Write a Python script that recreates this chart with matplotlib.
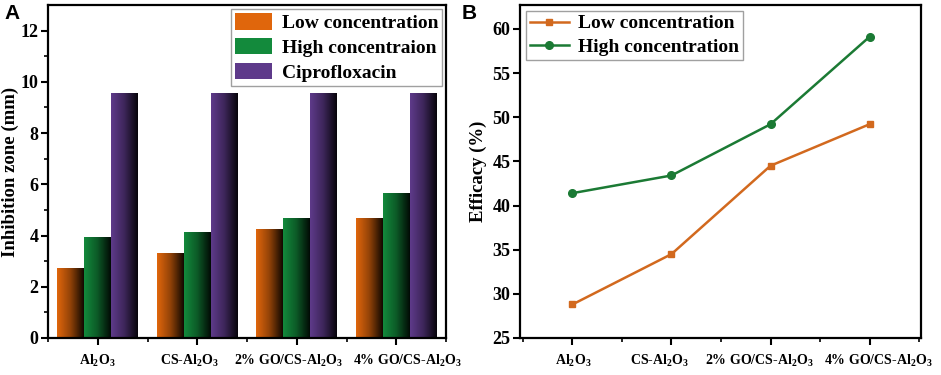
import numpy as np
import matplotlib
matplotlib.use("Agg")
import matplotlib.pyplot as plt
from matplotlib.colors import LinearSegmentedColormap, to_rgb
from matplotlib.transforms import ScaledTranslation

# =========================
# Data
# =========================
categories = ["Al$_2$O$_3$", "CS-Al$_2$O$_3$", "2% GO/CS-Al$_2$O$_3$", "4% GO/CS-Al$_2$O$_3$"]

zone_low = [2.75, 3.30, 4.25, 4.70]
zone_high = [3.95, 4.15, 4.70, 5.65]
zone_cipro = [9.55, 9.55, 9.55, 9.55]
bar_labels = ["Low concentration", "High concentraion", "Ciprofloxacin"]

eff_low = [28.8, 34.5, 44.5, 49.2]
eff_high = [41.4, 43.4, 49.2, 59.1]
line_labels = ["Low concentration", "High concentration"]

bar_colors = ["#e0660c", "#138a3c", "#5e3a8a"]
line_colors = ["#d2691e", "#1b7a34"]

plt.rcParams["font.family"] = ["Liberation Serif", "DejaVu Serif"]
plt.rcParams["font.weight"] = "bold"
plt.rcParams["mathtext.fontset"] = "custom"
plt.rcParams["mathtext.rm"] = "Liberation Serif:bold"
plt.rcParams["mathtext.it"] = "Liberation Serif:bold"
plt.rcParams["mathtext.bf"] = "Liberation Serif:bold"
plt.rcParams["mathtext.default"] = "rm"


def gradient_bars(ax, bars, color):
    """Fill each bar with a left-to-right colour -> near black gradient."""
    c = np.array(to_rgb(color))
    cmap = LinearSegmentedColormap.from_list("g", [c, c * 0.65, c * 0.08])
    grad = np.linspace(0, 1, 64).reshape(1, -1)
    for b in bars:
        x, y = b.get_x(), b.get_y()
        w, h = b.get_width(), b.get_height()
        im = ax.imshow(grad, cmap=cmap, aspect="auto", extent=(x, x + w, y, y + h),
                       zorder=b.get_zorder() + 0.1)
        im.set_clip_path(b)


def style_axes(ax):
    for s in ax.spines.values():
        s.set_linewidth(1.6)
    ax.tick_params(axis="both", which="major", direction="out", length=5, width=1.5,
                   labelsize=13, pad=2)
    ax.tick_params(axis="both", which="minor", direction="out", length=3, width=1.2)
    ax.tick_params(axis="x", labelsize=10, pad=6)


def nudge_xlabels(ax, shifts_px):
    # the crowded category labels are pushed apart a little, as in the original
    for lab, dx in zip(ax.get_xticklabels(), shifts_px):
        lab.set_transform(lab.get_transform() + ScaledTranslation(dx / 100, 0, fig.dpi_scale_trans))


fig = plt.figure(figsize=(9.41, 3.75), dpi=100)
axA = fig.add_axes([48 / 941, 37 / 375, 398 / 941, 333 / 375])
axB = fig.add_axes([520 / 941, 37 / 375, 401 / 941, 333 / 375])

x = np.arange(1, len(categories) + 1)
edges = np.arange(0.5, len(categories) + 1, 1.0)

# =========================
# Panel A: bars
# =========================
w = 0.27
series = [zone_low, zone_high, zone_cipro]
for i, (vals, col, lab) in enumerate(zip(series, bar_colors, bar_labels)):
    bars = axA.bar(x + (i - 1) * w, vals, width=w, color=col, edgecolor="none",
                   label=lab, zorder=2)
    gradient_bars(axA, bars, col)

axA.set_xlim(0.5, 4.5)
axA.set_ylim(0, 13)
axA.set_yticks(np.arange(0, 13, 2))
axA.set_yticks(np.arange(1, 13, 2), minor=True)
axA.set_xticks(x)
axA.set_xticks(edges, minor=True)
axA.set_xticklabels(categories)
axA.set_ylabel("Inhibition zone (mm)", fontsize=13.5, fontweight="bold", labelpad=1)
style_axes(axA)
nudge_xlabels(axA, [0, -8, -8, 11])
legA = axA.legend(loc="upper right", fontsize=14, frameon=True, fancybox=False,
                  edgecolor="#888888", handlelength=1.9, handleheight=0.95,
                  borderpad=0.2, labelspacing=0.3, handletextpad=0.5,
                  borderaxespad=0.2)
legA.get_frame().set_linewidth(1.0)

# =========================
# Panel B: lines
# =========================
axB.plot(x, eff_low, color=line_colors[0], marker="s", markersize=5, linewidth=1.8,
         label=line_labels[0])
axB.plot(x, eff_high, color=line_colors[1], marker="o", markersize=5.5, linewidth=1.8,
         label=line_labels[1])
axB.set_xlim(0.47, 4.52)
axB.set_ylim(25, 62.7)
axB.set_yticks(np.arange(25, 61, 5))
axB.set_xticks(x)
axB.set_xticks(edges, minor=True)
axB.set_xticklabels(categories)
axB.set_ylabel("Efficacy (%)", fontsize=13.5, fontweight="bold", labelpad=4)
style_axes(axB)
nudge_xlabels(axB, [1, -12, -11, 9])
legB = axB.legend(loc="upper left", fontsize=14, frameon=True, fancybox=False,
                  edgecolor="#888888", handlelength=2.0, borderpad=0.2,
                  labelspacing=0.3, handletextpad=0.5, borderaxespad=0.3)
legB.get_frame().set_linewidth(1.0)

# panel letters
fig.text(4 / 941, 1 - 19 / 375, "A", fontsize=15, fontweight="bold",
         family=["Liberation Sans", "DejaVu Sans"])
fig.text(462 / 941, 1 - 19 / 375, "B", fontsize=15, fontweight="bold",
         family=["Liberation Sans", "DejaVu Sans"])

fig.savefig("out.png", dpi=100)
